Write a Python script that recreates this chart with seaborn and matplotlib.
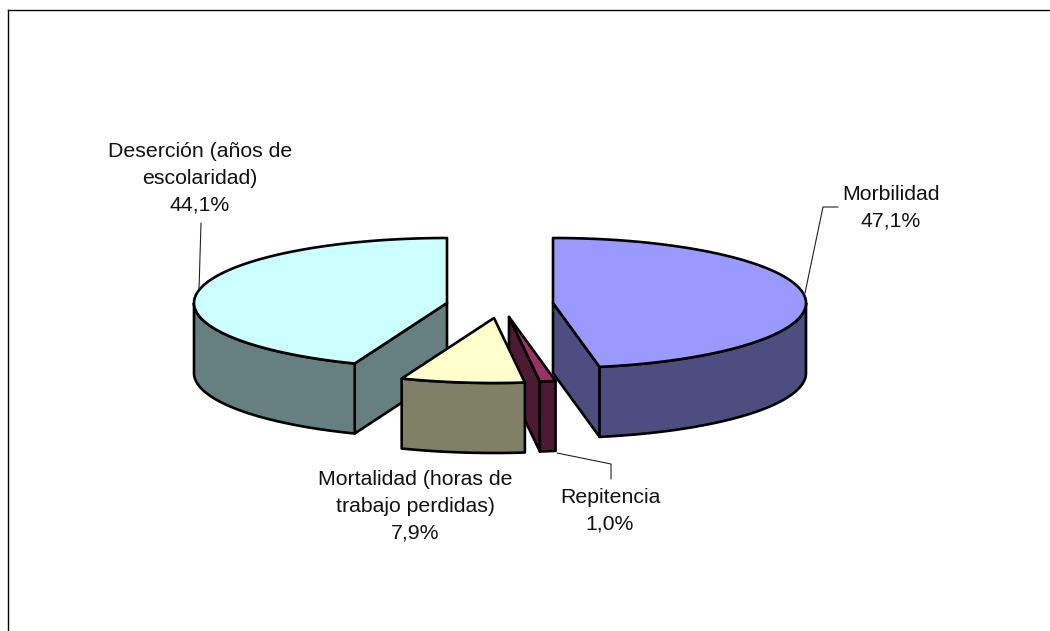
import numpy as np
import seaborn as sns
import matplotlib.pyplot as plt

# Data
labels = ['Morbilidad', 'Repitencia', 'Mortalidad (horas de\ntrabajo perdidas)', 'Deserción (años de\nescolaridad)']
values = [47.1, 1.0, 7.9, 44.1]

# Colours
top_colors = ['#9999FF', '#993366', '#FFFFCC', '#CCFFFF']
side_colors = ['#4D4D80', '#4D1A33', '#808066', '#668080']

# Pie geometry (pixels)
apex_x = [553, 509, 494, 447]
apex_y = [303, 317, 318, 303]
rx, ry, depth = 253, 65, 70

# Labels and leader lines (pixels)
label_x = [891, 610, 415, 200]
label_y = [208, 511, 506, 178]
leaders = [
    ([805, 823, 838], [293, 207, 207]),
    ([557, 611, 611], [453, 464, 479]),
    ([], []),
    ([201, 199], [223, 290]),
]

sns.set_style('white')
plt.rcParams['font.family'] = ['Liberation Sans', 'DejaVu Sans']

fig = plt.figure(figsize=(10.5, 6.31), dpi=100)
ax = fig.add_axes([8 / 1050, 0, 1042 / 1050, 621 / 631])
ax.set_xlim(8, 1050)
ax.set_ylim(631, 10)
ax.set_xticks([])
ax.set_yticks([])
sns.despine(ax=ax, top=False, right=True, left=False, bottom=True)
for side in ['left', 'top']:
    ax.spines[side].set_color('black')
    ax.spines[side].set_linewidth(1.0)

edges = np.cumsum([0] + values) / sum(values) * 2 * np.pi


def rim(cx, cy, a0, a1):
    t = np.linspace(a0, a1, 200)
    return cx + rx * np.sin(t), cy - ry * np.cos(t)


def face(xs, ys, color):
    ax.fill(xs, ys, facecolor=color, edgecolor='black', linewidth=1.9, joinstyle='round')


# Back slices first so the small ones overlap them
for i in [3, 0, 1, 2]:
    a0, a1 = edges[i], edges[i + 1]
    cx, cy = apex_x[i], apex_y[i]

    # side walls of the cut
    for a, show in [(a0, a0 > np.pi), (a1, a1 < np.pi)]:
        if show:
            ex = cx + rx * np.sin(a)
            ey = cy - ry * np.cos(a)
            face([cx, ex, ex, cx], [cy, ey, ey + depth, cy + depth], side_colors[i])

    # outer wall, only the part that faces the viewer
    b0, b1 = max(a0, np.pi / 2), min(a1, 3 * np.pi / 2)
    if b1 > b0:
        xs, ys = rim(cx, cy, b0, b1)
        face(np.r_[xs, xs[::-1]], np.r_[ys, ys[::-1] + depth], side_colors[i])

    # top
    xs, ys = rim(cx, cy, a0, a1)
    face(np.r_[cx, xs], np.r_[cy, ys], top_colors[i])

for i in range(len(values)):
    if leaders[i][0]:
        ax.plot(leaders[i][0], leaders[i][1], color='#222222', linewidth=0.8, clip_on=False)
    txt = labels[i] + '\n' + f'{values[i]:.1f}'.replace('.', ',') + '%'
    ax.text(label_x[i], label_y[i], txt, ha='center', va='center', fontsize=15.3, color='#111111',
            linespacing=1.53, multialignment='center')

fig.savefig('out.png', dpi=100)
